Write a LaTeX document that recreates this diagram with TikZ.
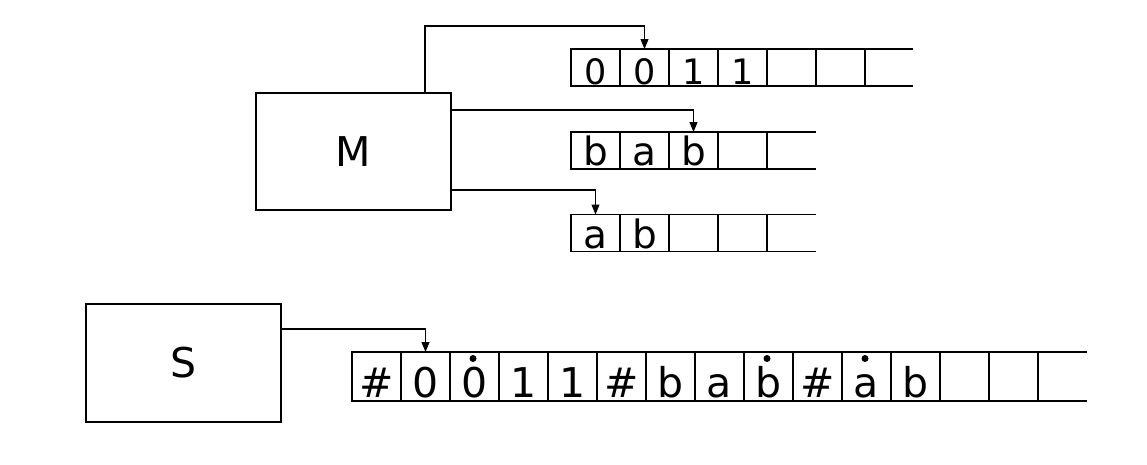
\documentclass[tikz,border=0pt]{standalone}
\usepackage{fontspec}
\setmainfont{DejaVu Sans}
\usetikzlibrary{arrows.meta}
\begin{document}
\begin{tikzpicture}[x=1pt,y=-1pt,
  every node/.style={inner sep=0pt, outer sep=0pt},
  machine/.style={draw, line width=1.1pt, minimum width=195pt, minimum height=117pt, font=\fontsize{41}{41}\selectfont},
  cellA/.style={draw, line width=1.1pt, minimum width=49pt, minimum height=37pt, text height=33pt, text depth=0pt, font=\fontsize{35}{35}\selectfont},
  cellB/.style={cellA, text height=30pt, font=\fontsize{39}{39}\selectfont},
  cellC/.style={draw, line width=1.1pt, minimum width=49pt, minimum height=49pt, text height=41pt, text depth=0pt, font=\fontsize{41}{41}\selectfont},
  conn/.style={line width=1.1pt, -{Triangle[width=8pt,length=10pt]}},
  tapeline/.style={line width=1.1pt},
]
\useasboundingbox (0,0) rectangle (1147,464);
% machines
\node[machine] (M) at (353.5,151.5) {M};
\node[machine, minimum height=118pt] (S) at (183.5,363) {S};
% tape 1
\foreach \t [count=\i] in {0,0,1,1,{},{}}
  \node[cellA] (t1-\i) at (546.5+49*\i,67.5) {\t};
\draw[tapeline] (t1-6.north east) -- ++(48,0);
\draw[tapeline] (t1-6.south east) -- ++(48,0);
% tape 2
\foreach \t [count=\i] in {b,a,b,{}}
  \node[cellB] (t2-\i) at (546.5+49*\i,150.5) {\t};
\draw[tapeline] (t2-4.north east) -- ++(49,0);
\draw[tapeline] (t2-4.south east) -- ++(49,0);
% tape 3
\foreach \t [count=\i] in {a,b,{},{}}
  \node[cellB] (t3-\i) at (546.5+49*\i,233) {\t};
\draw[tapeline] (t3-4.north east) -- ++(49,0);
\draw[tapeline] (t3-4.south east) -- ++(49,0);
% tape 4
\foreach \t [count=\i] in {\#,0,0,1,1,\#,b,a,b,\#,a,b,{},{}}
  \node[cellC] (t4-\i) at (327.5+49*\i,376.5) {\t};
\draw[tapeline] (t4-14.north east) -- ++(49,0);
\draw[tapeline] (t4-14.south east) -- ++(49,0);
% head marks
\foreach \k in {3,9,11}
  \fill (t4-\k.north) ++(-1.5,6.5) circle (3.5);
% connectors
\draw[conn] ([xshift=-26pt]M.north east) |- ([yshift=23pt]t1-2.north) -- (t1-2.north);
\draw[conn] ([yshift=-17pt]M.north east) -| (t2-3.north);
\draw[conn] ([yshift=-97pt]M.north east) -| (t3-1.north);
\draw[conn] ([yshift=-25pt]S.north east) -| (t4-2.north);
\end{tikzpicture}
\end{document}
